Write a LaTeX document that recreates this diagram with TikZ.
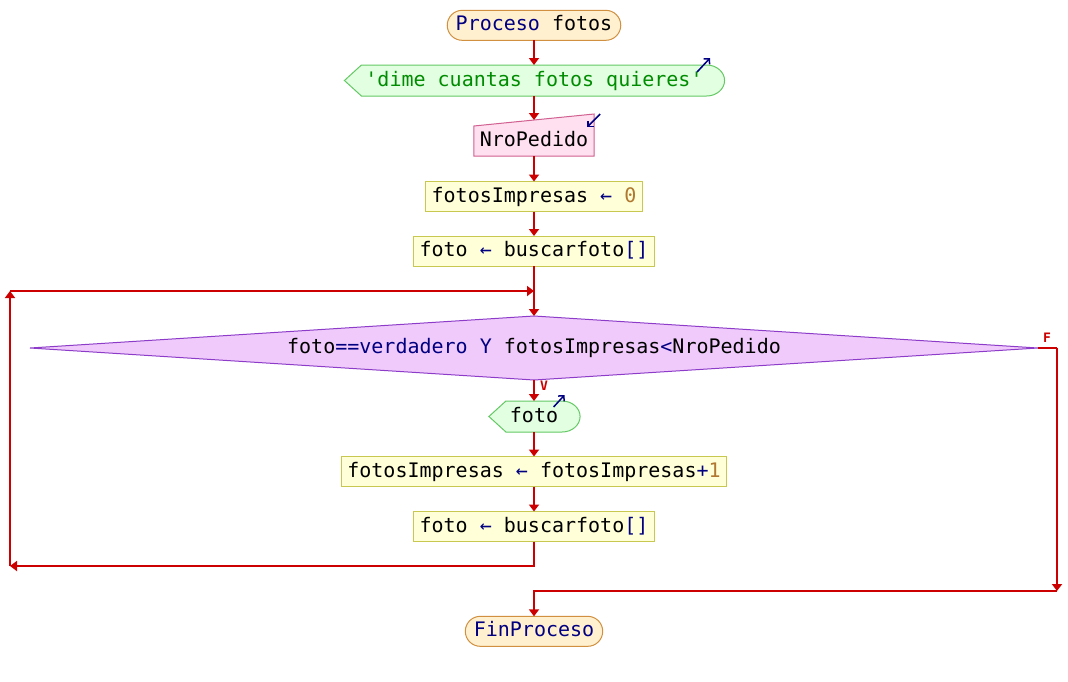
\documentclass[tikz,border=0pt]{standalone}
\usepackage{fontspec}
\newfontfamily\psefont{DejaVu Sans Mono}
\usetikzlibrary{positioning,shapes,backgrounds,arrows.meta}
\definecolor{flowred}{RGB}{204,0,0}
\definecolor{kwblue}{RGB}{0,0,128}
\definecolor{strgreen}{RGB}{0,140,0}
\definecolor{numbrown}{RGB}{176,120,48}
\definecolor{termfill}{RGB}{255,240,208}
\definecolor{termline}{RGB}{208,144,64}
\definecolor{outfill}{RGB}{226,255,226}
\definecolor{outline}{RGB}{100,200,100}
\definecolor{infill}{RGB}{255,224,240}
\definecolor{inline}{RGB}{208,96,144}
\definecolor{asgfill}{RGB}{255,255,216}
\definecolor{asgline}{RGB}{200,200,80}
\definecolor{decfill}{RGB}{240,202,250}
\definecolor{decline}{RGB}{140,60,200}

\begin{document}
\begin{tikzpicture} [x=1pt, y=1pt,
    every node/.style={font=\psefont\fontsize{20}{22}\selectfont, inner sep=0pt, outer sep=0pt,
      text height=15pt, text depth=4pt},
    flow/.style={draw=flowred, line width=2pt, -{Triangle[length=7pt,width=10pt]}},
    line/.style={draw=flowred, line width=2pt},
    terminal/.style={draw=termline, fill=termfill, line width=1pt, rounded corners=15pt,
      minimum height=30, inner xsep=8.5},
    asg/.style={draw=asgline, fill=asgfill, line width=1pt, minimum height=30, inner xsep=6},
    outbox/.style={minimum height=31, inner xsep=4},
    outshape/.style={draw=outline, fill=outfill, line width=1pt},
    inbox/.style={minimum height=30, inner xsep=6},
    inshape/.style={draw=inline, fill=infill, line width=1pt},
    decision/.style={shape=diamond, draw=decline, fill=decfill, line width=1pt, aspect=16,
      minimum width=1008, minimum height=64},
    icon/.style={draw=kwblue, line width=1.5pt, -{Straight Barb[length=4pt,width=8pt]}},
    branch/.style={text=flowred, font=\psefont\bfseries\fontsize{13}{14}\selectfont,
      text height=10pt, text depth=0pt}]
\useasboundingbox (0,0) rectangle (1068,-681);

% nodes
\node[terminal] (start) at (534,-25.3) {\textcolor{kwblue}{Proceso} fotos};
\node[outbox] (msg) at (534,-80.5) {\textcolor{strgreen}{'dime cuantas fotos quieres'}};
\node[inbox] (inp) at (534,-141) {NroPedido};
\node[asg] (cero) at (534,-196.5) {fotosImpresas \textcolor{kwblue}{←} \textcolor{numbrown}{0}};
\node[asg] (busca1) at (534,-251) {foto \textcolor{kwblue}{←} buscarfoto\textcolor{kwblue}{[]}};
\node[decision] (cond) at (534,-348) {foto\textcolor{kwblue}{==verdadero Y} fotosImpresas\textcolor{kwblue}{<}NroPedido};
\node[outbox] (mfoto) at (534,-416.5) {foto};
\node[asg] (suma) at (534,-471.5) {fotosImpresas \textcolor{kwblue}{←} fotosImpresas\textcolor{kwblue}{+}\textcolor{numbrown}{1}};
\node[asg] (busca2) at (534,-526.5) {foto \textcolor{kwblue}{←} buscarfoto\textcolor{kwblue}{[]}};
\node[terminal] (fin) at (534,-631.3) {\textcolor{kwblue}{FinProceso}};

\node[branch] (lv) at (544,-385) {V};
\node[branch] (lf) at (1047,-337) {F};

% shapes behind the texts
\begin{scope}[on background layer]
\draw[outshape] ([xshift=-17pt]msg.west) -- (msg.north west) -- (msg.north east)
    arc[start angle=90, end angle=-90, x radius=18, y radius=15.5] -- (msg.south west) -- cycle;
\draw[outshape] ([xshift=-17pt]mfoto.west) -- (mfoto.north west) -- (mfoto.north east)
    arc[start angle=90, end angle=-90, x radius=18, y radius=15.5] -- (mfoto.south west) -- cycle;
\draw[inshape] (inp.south west) -- (inp.south east) -- ([yshift=12pt]inp.north east)
    -- (inp.north west) -- cycle;
\end{scope}

% corner points
\coordinate (inptop) at ([yshift=6pt]inp.north);
\coordinate (lb) at (10,-566);
\coordinate (lt) at (10,-291);
\coordinate (jt) at (534,-291);
\coordinate (rt) at (1057,-348);
\coordinate (rb) at (1057,-591);

% icons
\draw[icon] ([xshift=-9.5pt,yshift=-7pt]msg.north east) -- ([xshift=3.5pt,yshift=7pt]msg.north east);
\draw[icon] ([xshift=6pt,yshift=12pt]inp.north east) -- ([xshift=-7pt,yshift=-1pt]inp.north east);
\draw[icon] ([xshift=-8.5pt,yshift=-6pt]mfoto.north east) -- ([xshift=2.5pt,yshift=6pt]mfoto.north east);

% connectors
\draw[flow] (start.south) -- (msg.north);
\draw[flow] (msg.south) -- (inptop);
\draw[flow] (inp.south) -- (cero.north);
\draw[flow] (cero.south) -- (busca1.north);
\draw[flow] (busca1.south) -- (cond.north);
\draw[flow] (cond.south) -- (mfoto.north);
\draw[flow] (mfoto.south) -- (suma.north);
\draw[flow] (suma.south) -- (busca2.north);
\draw[flow] (busca2.south) |- (lb);
\draw[flow] (lb) -- (lt);
\draw[flow] (lt) -- (jt);
\draw[line] (cond.east) -- (rt);
\draw[flow] (rt) -- (rb);
\draw[flow] (rb) -| (fin.north);

\end{tikzpicture}
\end{document}
